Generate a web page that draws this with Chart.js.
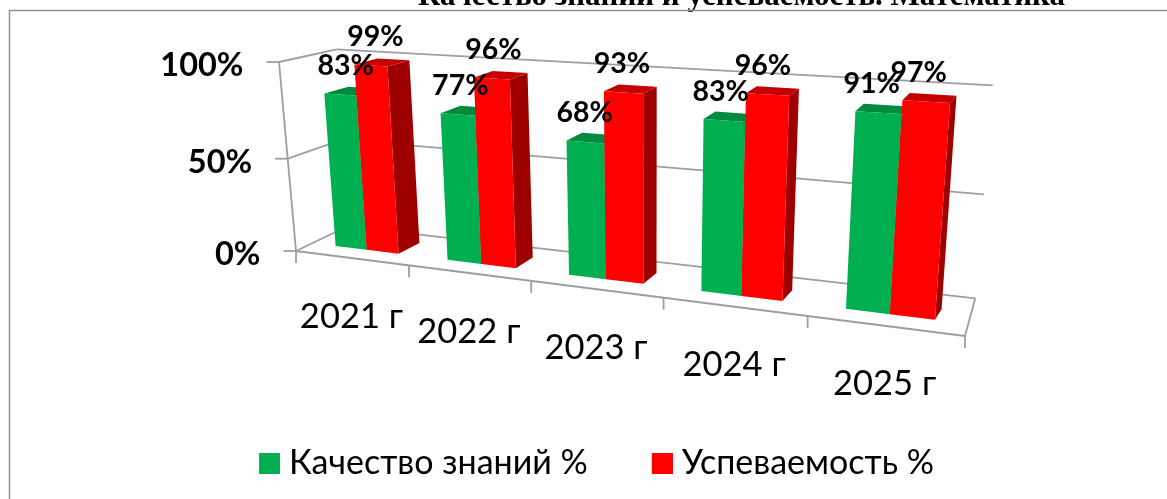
<!DOCTYPE html>
<html>
<head>
<meta charset="utf-8">
<style>html,body{margin:0;padding:0;background:#fff}#w{position:relative;width:1167px;height:499px}</style>
<script src="https://cdn.jsdelivr.net/npm/chart.js@4/dist/chart.umd.js"></script>
</head>
<body>
<div id="w"><canvas id="c" width="1167" height="499"></canvas></div>
<script>
// ---- data ----
const categories = ['2021 г', '2022 г', '2023 г', '2024 г', '2025 г'];
const seriesNames = ['Качество знаний %', 'Успеваемость %'];
const quality = [83, 77, 68, 83, 91];
const progress = [99, 96, 93, 96, 97];
const chartTitle = 'Качество знаний и успеваемость. Математика';

// ---- styles ----
const GREEN = '#00B050', RED = '#FF0000';
const SHADE = { [GREEN]: { top: '#008A3E', side: '#006B30' }, [RED]: { top: '#C40000', side: '#9E0000' } };
const GRID = '#9E9E9E';
const LABEL_FONT = 'Lato';

// ---- camera: each plane of the 3-D box, as (left/bottom, right/bottom, right/top, left/top) ----
function homography(q) {
  const [p0, p1, p2, p3] = q;
  const sx = p0[0] - p1[0] + p2[0] - p3[0], sy = p0[1] - p1[1] + p2[1] - p3[1];
  const dx1 = p1[0] - p2[0], dy1 = p1[1] - p2[1], dx2 = p3[0] - p2[0], dy2 = p3[1] - p2[1];
  const den = dx1 * dy2 - dx2 * dy1;
  const g = (sx * dy2 - dx2 * sy) / den, h = (dx1 * sy - sx * dy1) / den;
  const a = p1[0] - p0[0] + g * p1[0], b = p3[0] - p0[0] + h * p3[0], c = p0[0];
  const d = p1[1] - p0[1] + g * p1[1], e = p3[1] - p0[1] + h * p3[1], f = p0[1];
  return (s, v) => { const w = g * s + h * v + 1; return [(a * s + b * v + c) / w, (d * s + e * v + f) / w]; };
}
const frontWall = homography([[296, 251], [965, 336], [983.5, 106], [279, 62]]);
const backWall = homography([[347.6, 226.3], [975.3, 298.3], [992.7, 85.3], [336.7, 49.3]]);
const barFront = homography([[312.8, 243.2], [969.5, 324], [987.1, 97.9], [298.2, 59.5]]);
const barBack = homography([[336.8, 232.6], [975.5, 313.5], [992.9, 90.7], [323.5, 53.7]]);

let area = null;
const toS = px => (px - area.left) / (area.right - area.left);
const toV = py => (area.bottom - py) / (area.bottom - area.top);

function poly(ctx, pts, fill) {
  ctx.beginPath();
  pts.forEach((p, i) => i ? ctx.lineTo(p[0], p[1]) : ctx.moveTo(p[0], p[1]));
  ctx.closePath();
  ctx.fillStyle = fill;
  ctx.fill();
}

// Bars keep the library's scale geometry; they are only projected when painted.
Chart.BarElement.prototype.draw = function (ctx) {
  const { x, y, base, width } = this.getProps(['x', 'y', 'base', 'width'], true);
  const s0 = toS(x - width / 2), s1 = toS(x + width / 2), v0 = toV(base), v1 = toV(y);
  const col = this.options.backgroundColor, sh = SHADE[col];
  poly(ctx, [barFront(s1, v0), barBack(s1, v0), barBack(s1, v1), barFront(s1, v1)], sh.side);
  poly(ctx, [barFront(s0, v1), barFront(s1, v1), barBack(s1, v1), barBack(s0, v1)], sh.top);
  poly(ctx, [barFront(s0, v0), barFront(s1, v0), barFront(s1, v1), barFront(s0, v1)], col);
};

function line(ctx, a, b) {
  ctx.beginPath(); ctx.moveTo(a[0], a[1]); ctx.lineTo(b[0], b[1]); ctx.stroke();
}

function drawBox(chart) {
  const ctx = chart.ctx, xs = chart.scales.x, ys = chart.scales.y;
  ctx.save();
  // chart frame
  ctx.strokeStyle = '#909090'; ctx.lineWidth = 1.5;
  ctx.beginPath(); ctx.moveTo(9.5, 499); ctx.lineTo(9.5, 10.5); ctx.lineTo(1167, 10.5); ctx.stroke();
  ctx.strokeStyle = GRID; ctx.lineWidth = 1.8; ctx.lineCap = 'butt';
  // value grid: side wall + back wall, with tick and label
  ctx.fillStyle = '#000'; ctx.textAlign = 'right'; ctx.textBaseline = 'middle';
  ctx.font = 'bold 32.5px ' + LABEL_FONT;
  ys.ticks.forEach(t => {
    const v = toV(ys.getPixelForValue(t.value));
    const a = frontWall(0, v), b = backWall(0, v), c = backWall(1, v);
    line(ctx, a, b); line(ctx, b, c);
    line(ctx, [a[0] - 12.5, a[1]], a);
    ctx.fillText(t.label, a[0] - 35.5, a[1] + 4);
  });
  // value axis edge
  line(ctx, frontWall(0, 1), frontWall(0, 0));
  // floor
  line(ctx, frontWall(0, 0), frontWall(1, 0));
  line(ctx, frontWall(1, 0), backWall(1, 0));
  // category ticks and labels
  const n = categories.length;
  for (let i = 0; i <= n; i++) {
    const p = frontWall(i / n, 0);
    line(ctx, p, [p[0], p[1] + 12]);
  }
  ctx.textAlign = 'center';
  ctx.font = '34.5px ' + LABEL_FONT;
  xs.getLabels().forEach((lab, i) => {
    const p = frontWall((i + 0.5) / n, 0);
    ctx.fillText(lab, p[0], p[1] + 58.5);
  });
  ctx.restore();
}

function drawValueLabels(chart) {
  const ctx = chart.ctx;
  ctx.save();
  ctx.fillStyle = '#000'; ctx.textAlign = 'center'; ctx.textBaseline = 'middle';
  ctx.font = 'bold 28.5px ' + LABEL_FONT;
  chart.data.datasets.forEach((ds, di) => {
    chart.getDatasetMeta(di).data.forEach((el, i) => {
      const s = toS(el.x), p = barFront(s, toV(el.y));
      ctx.fillText(ds.data[i] + '%', p[0] + 6.5 - 15 * s, p[1] - 29);
    });
  });
  ctx.restore();
}

const box3d = {
  id: 'box3d',
  afterLayout(chart) {
    area = chart.chartArea;
    const l = chart.legend;
    l.top += 446 - (l.top + l.options.labels.padding); l.bottom = l.top + l.height;
    l.left += 13; l.right += 13;
    const t = chart.titleBlock;
    t.top = -22; t.bottom = t.top + t.height;
    t.left += 158; t.right += 158;
  },
  beforeDatasetsDraw(chart) {
    drawBox(chart);
    // paint the near-left series first: the neighbouring bar must cover this one's side face
    chart.getSortedVisibleDatasetMetas().forEach(m => m.controller.draw());
    drawValueLabels(chart);
    return false;
  }
};

// legend swatch: the label gap is half the font size, so the square sits in a wider transparent sprite
function swatch(color) {
  const k = document.createElement('canvas');
  k.width = 29; k.height = 21;
  const g = k.getContext('2d');
  g.fillStyle = color; g.fillRect(8, 0, 21, 21);
  return k;
}
const swatches = [swatch(GREEN), swatch(RED)];

new Chart(document.getElementById('c'), {
  type: 'bar',
  plugins: [box3d],
  data: {
    labels: categories,
    datasets: [
      { label: seriesNames[0], data: quality, backgroundColor: GREEN, clip: false },
      { label: seriesNames[1], data: progress, backgroundColor: RED, clip: false }
    ]
  },
  options: {
    responsive: false,
    animation: false,
    events: [],
    categoryPercentage: 0.5724,
    barPercentage: 1,
    layout: { padding: 0 },
    scales: {
      x: { display: false, grid: { display: false } },
      y: { display: false, min: 0, max: 100, grid: { display: false },
           ticks: { stepSize: 50, callback: v => v + '%' } }
    },
    plugins: {
      tooltip: { enabled: false },
      title: { display: true, text: chartTitle, color: '#000', padding: 0,
               font: { family: 'Liberation Serif', size: 31, weight: 'bold' } },
      legend: {
        position: 'bottom',
        labels: {
          usePointStyle: true, boxWidth: 13, boxHeight: 21, padding: 64, color: '#000',
          font: { family: LABEL_FONT, size: 34 },
          generateLabels: c => c.data.datasets.map((d, i) => ({
            text: d.label, fillStyle: d.backgroundColor, strokeStyle: d.backgroundColor,
            lineWidth: 0, pointStyle: swatches[i], datasetIndex: i, hidden: false
          }))
        }
      }
    }
  }
});
</script>
</body>
</html>
